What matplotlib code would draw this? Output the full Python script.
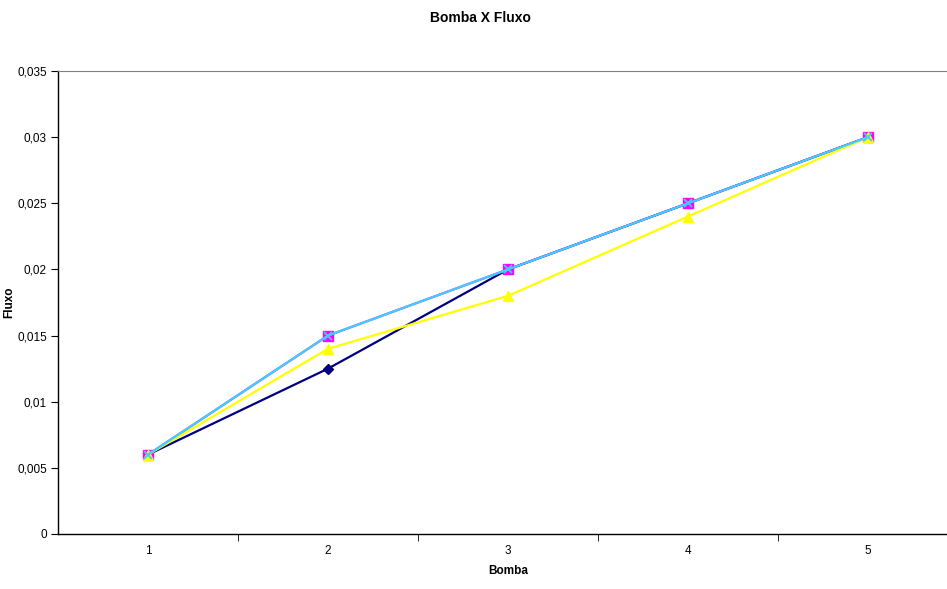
import matplotlib.pyplot as plt
from matplotlib.ticker import FuncFormatter

bomba = [1, 2, 3, 4, 5]
serie1 = [0.006, 0.0125, 0.02, 0.025, 0.03]
serie2 = [0.006, 0.015, 0.02, 0.025, 0.03]
serie3 = [0.006, 0.014, 0.018, 0.024, 0.03]
serie4 = [0.006, 0.015, 0.02, 0.025, 0.03]
yticks = [0, 0.005, 0.01, 0.015, 0.02, 0.025, 0.03, 0.035]

plt.rcParams['font.family'] = ['Liberation Sans', 'DejaVu Sans']

fig = plt.figure(figsize=(9.47, 5.89), dpi=100)
ax = fig.add_axes([58 / 947, 1 - 534 / 589, 900 / 947, (534 - 71) / 589])

ax.plot(bomba, serie1, color="#000080", marker="D", markersize=5, lw=1.6)
ax.plot(bomba, serie2, color="#ff00ff", marker="s", markersize=7, lw=1.6)
ax.plot(bomba, serie3, color="#ffff00", marker="^", markersize=7, lw=1.6)
ax.plot(bomba, serie4, color="#3cd0ff", marker="x", markersize=6, mew=1.3, lw=1.6)

ax.set_xlim(0.5, 5.5)
ax.set_ylim(0, 0.035)
ax.set_yticks(yticks)
ax.yaxis.set_major_formatter(FuncFormatter(
    lambda v, p: "0" if v == 0 else ("%.3f" % v).rstrip("0").replace(".", ",")))
ax.set_xticks(bomba)
ax.set_xticks([1.5, 2.5, 3.5, 4.5], minor=True)
ax.tick_params(axis="x", which="major", length=0, pad=8, labelsize=8.5)
ax.tick_params(axis="x", which="minor", length=5, direction="out")
ax.tick_params(axis="y", length=5, direction="out", labelsize=8.5, pad=3)

ax.spines["right"].set_visible(False)
ax.spines["top"].set_color("#808080")
ax.spines["left"].set_linewidth(1)
ax.spines["bottom"].set_linewidth(1)

ax.set_xlabel("Bomba", fontsize=8.5, fontweight="bold", labelpad=6)
ax.set_ylabel("Fluxo", fontsize=8.5, fontweight="bold")
ax.yaxis.set_label_coords(-43 / 900, 0.5)
fig.text(480 / 947, 1 - 18 / 589, "Bomba X Fluxo", ha="center", va="center",
         fontsize=10, fontweight="bold")

fig.savefig("out.png", dpi=100)
